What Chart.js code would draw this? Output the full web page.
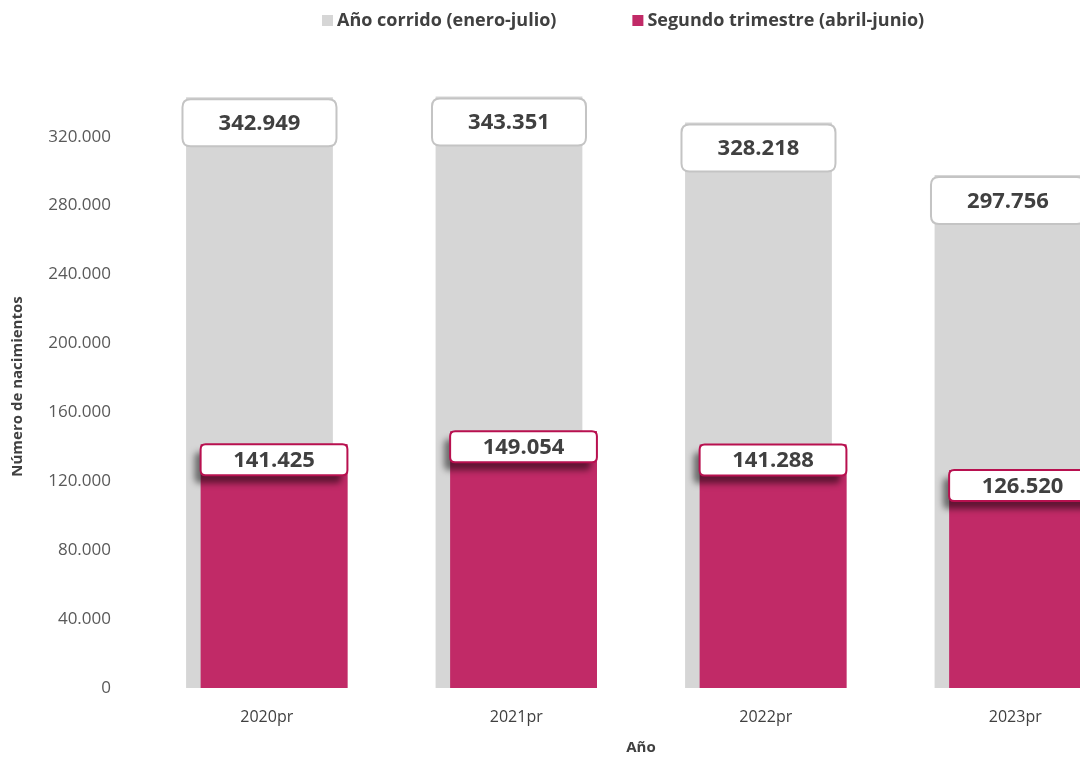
<!DOCTYPE html>
<html>
<head>
    <title>Nacimientos</title>
    <script src="https://cdn.jsdelivr.net/npm/chart.js"></script>
    <style>
        html, body { margin: 0; padding: 0; background: #fff; overflow: hidden; }
        .chart-container { width: 1140px; height: 757px; }
    </style>
</head>
<body>
    <div class="chart-container">
        <canvas id="nacChart" width="1140" height="757"></canvas>
    </div>

    <script>
        // datos
        const years = ['2020pr', '2021pr', '2022pr', '2023pr'];
        const anoCorrido = [342949, 343351, 328218, 297756];
        const segundoTrim = [141425, 149054, 141288, 126520];
        const yTicks = [0, 40000, 80000, 120000, 160000, 200000, 240000, 280000, 320000];

        const FONT = "'Open Sans', 'Noto Sans', sans-serif";
        const fmt = v => v.toLocaleString('de-DE');

        function roundRect(c, x, y, w, h, r) {
            c.beginPath();
            c.moveTo(x + r, y);
            c.lineTo(x + w - r, y);
            c.quadraticCurveTo(x + w, y, x + w, y + r);
            c.lineTo(x + w, y + h - r);
            c.quadraticCurveTo(x + w, y + h, x + w - r, y + h);
            c.lineTo(x + r, y + h);
            c.quadraticCurveTo(x, y + h, x, y + h - r);
            c.lineTo(x, y + r);
            c.quadraticCurveTo(x, y, x + r, y);
            c.closePath();
        }

        // etiquetas de valores (y barras rosadas encima de las grises)
        const valueLabels = {
            id: 'valueLabels',
            afterDatasetsDraw(chart) {
                const c = chart.ctx;
                const area = chart.chartArea;
                c.save();
                c.beginPath();
                c.rect(area.left, area.top, area.right - area.left, area.bottom - area.top);
                c.clip();
                chart.getDatasetMeta(1).controller.draw();
                c.restore();

                chart.data.datasets.forEach((ds, di) => {
                    const meta = chart.getDatasetMeta(di);
                    meta.data.forEach((bar, i) => {
                        c.save();
                        let w, h, top, r, stroke;
                        if (di === 0) {
                            w = 154; h = 47; top = bar.y + 2; r = 8; stroke = '#C4C4C4';
                        } else {
                            w = bar.width; h = 31; top = bar.y; r = 5; stroke = '#B8104F';
                        }
                        const left = bar.x - w / 2;
                        if (di === 1) {
                            c.shadowColor = 'rgba(0,0,0,0.5)';
                            c.shadowBlur = 6;
                            c.shadowOffsetX = -6;
                            c.shadowOffsetY = 8;
                        }
                        roundRect(c, left, top, w, h, r);
                        c.fillStyle = '#fff';
                        c.fill();
                        c.shadowColor = 'transparent';
                        c.lineWidth = 2;
                        c.strokeStyle = stroke;
                        c.stroke();
                        c.fillStyle = '#404040';
                        c.font = 'bold 22px ' + FONT;
                        c.textAlign = 'center';
                        c.textBaseline = 'middle';
                        c.fillText(fmt(ds.data[i]), bar.x, top + h / 2 + 1);
                        c.restore();
                    });
                });
            }
        };

        // leyenda propia (espaciado como el original)
        const topLegend = {
            id: 'topLegend',
            afterDraw(chart) {
                const c = chart.ctx;
                c.save();
                c.font = 'bold 18px ' + FONT;
                c.textBaseline = 'middle';
                let x = 322;
                const y = 21;
                chart.data.datasets.forEach(ds => {
                    c.fillStyle = ds.backgroundColor;
                    c.fillRect(x, y - 6, 11, 11);
                    c.fillStyle = '#404040';
                    c.fillText(ds.label, x + 15, y);
                    x += 15 + c.measureText(ds.label).width + 76;
                });
                c.restore();
            }
        };

        const ctx = document.getElementById('nacChart').getContext('2d');
        new Chart(ctx, {
            type: 'bar',
            data: {
                labels: years,
                datasets: [
                    {
                        label: 'Año corrido (enero-julio)',
                        data: anoCorrido,
                        backgroundColor: '#D6D6D6',
                        barPercentage: 10.1,
                        categoryPercentage: 0.1165
                    },
                    {
                        label: 'Segundo trimestre (abril-junio)',
                        data: segundoTrim,
                        backgroundColor: 'rgb(193, 42, 103)',
                        barPercentage: 10.1,
                        categoryPercentage: 0.1165
                    }
                ]
            },
            options: {
                responsive: false,
                animation: false,
                layout: { padding: { left: 5, right: 0, top: 85, bottom: 0 } },
                plugins: {
                    legend: { display: false },
                    tooltip: { enabled: false }
                },
                scales: {
                    x: {
                        grid: { display: false },
                        border: { display: false },
                        afterFit(scale) { scale.height = 69; },
                        ticks: {
                            color: '#404040',
                            padding: 12,
                            font: { family: FONT, size: 16 }
                        },
                        title: {
                            display: true,
                            text: 'Año',
                            color: '#404040',
                            font: { family: FONT, size: 15, weight: 'bold' },
                            padding: { top: 0, bottom: 0 }
                        }
                    },
                    y: {
                        min: 0,
                        max: 350000,
                        grid: { display: false },
                        border: { display: false },
                        afterBuildTicks(scale) {
                            scale.ticks = yTicks.map(v => ({ value: v }));
                        },
                        afterFit(scale) { scale.width = 137; },
                        ticks: {
                            color: '#595959',
                            padding: 23,
                            font: { family: FONT, size: 17 },
                            callback: v => fmt(v)
                        },
                        title: {
                            display: true,
                            text: 'Número de nacimientos',
                            color: '#404040',
                            font: { family: FONT, size: 15, weight: 'bold' },
                            padding: { top: 4, bottom: 0 }
                        }
                    }
                }
            },
            plugins: [valueLabels, topLegend]
        });
    </script>
</body>
</html>
